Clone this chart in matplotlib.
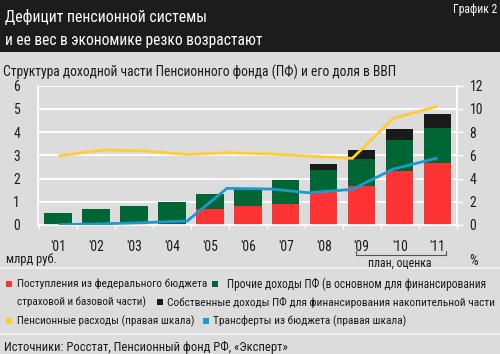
import matplotlib
matplotlib.use("Agg")
import matplotlib.pyplot as plt
from matplotlib import font_manager
from matplotlib.lines import Line2D
from matplotlib.patches import Rectangle
import numpy as np

# ---- pick a condensed font if one is installed ----
def pick_font():
    fl = font_manager.fontManager.ttflist
    def ok(f):
        return f.style == "normal" and f.weight in (400, "normal", "regular", "book")
    prefs = ["Liberation Sans Narrow", "Roboto Condensed", "Open Sans Condensed",
             "DejaVu Sans Condensed", "Noto Sans Condensed", "Noto Sans", "Open Sans",
             "Roboto", "Lato", "Inter", "DejaVu Sans"]
    cond = [f for f in fl if ok(f) and (str(f.stretch) in ("condensed", "semi-condensed", "extra-condensed")
                                       or "Narrow" in f.name or "Condensed" in f.name)]
    for p in prefs:
        for f in cond:
            if f.name == p:
                return f.name, f.stretch
    for f in cond:
        return f.name, f.stretch
    return "Roboto", "normal"

FAM, STR = pick_font()
plt.rcParams["font.family"] = [FAM, "DejaVu Sans"]
plt.rcParams["font.stretch"] = STR

# ---- data ----
years = ["'01", "'02", "'03", "'04", "'05", "'06", "'07", "'08", "'09", "'10", "'11"]
federal = [0.0, 0.02, 0.04, 0.05, 0.68, 0.82, 0.91, 1.40, 1.70, 2.31, 2.66]
other = [0.52, 0.68, 0.79, 0.95, 0.67, 0.76, 1.03, 0.97, 1.14, 1.35, 1.53]
own = [0, 0, 0, 0, 0, 0, 0, 0.25, 0.39, 0.46, 0.58]

# lines (right axis, % of GDP), x in year-index units
pens_x = [0.05, 1.2, 2.2, 3.4, 4.45, 5.6, 6.6, 7.75, 8.83, 9.96]
pens_y = [5.97, 6.46, 6.40, 6.07, 6.23, 6.12, 5.94, 5.74, 9.19, 10.19]
trans_x = [0.05, 1.2, 2.2, 3.4, 4.45, 5.6, 6.6, 7.75, 8.83, 9.96]
trans_y = [0.03, 0.10, 0.20, 0.34, 3.16, 3.10, 2.78, 3.07, 4.82, 5.74]

left_ticks = [0, 1, 2, 3, 4, 5, 6]
right_ticks = [0, 2, 4, 6, 8, 10, 12]

BG = "#dcdcdc"
RED = "#ff3333"
GREEN = "#006633"
BLACK = "#1a1a1a"
YELLOW = "#ffcc33"
BLUE = "#1a9ad0"
TXT = "#1a1a1a"

W, H = 500, 354
fig = plt.figure(figsize=(W / 100, H / 100), dpi=100, facecolor=BG)
renderer = fig.canvas.get_renderer()

def fx(px):
    return px / W

def fy(py):
    return 1 - py / H

def fit(px, py, s, target_w, size=10, ha="left", color=TXT, maxsize=None):
    t = fig.text(fx(px), fy(py), s, color=color, fontsize=size, va="center", ha=ha)
    w = t.get_window_extent(renderer).width
    ns = size * target_w / w
    if maxsize is not None:
        ns = min(ns, maxsize)
    t.set_fontsize(ns)
    return t, ns / size

# title band
fig.patches.append(Rectangle((0, fy(52)), 1, 52 / H, transform=fig.transFigure,
                             facecolor="#1c1c1c", edgecolor="none", zorder=0))
fit(5, 17, "Дефицит пенсионной системы", 202, 12, color="white")
fit(5, 41, "и ее вес в экономике резко возрастают", 258, 12, color="white")
fit(497, 9, "График 2", 44, 9, ha="right", color="white")

_, k = fit(3, 72, "Структура доходной части Пенсионного фонда (ПФ) и его доля в ВВП", 394, 10)
TICK = 10 * k

# axes
ax = fig.add_axes([fx(38), fy(225), fx(457) - fx(38), (225 - 85.7) / H])
ax.set_facecolor(BG)
x = np.arange(len(years))
bw = 0.72
federal = np.array(federal)
other = np.array(other)
own = np.array(own)
ax.bar(x, federal, bw, color=RED, zorder=2)
ax.bar(x, other, bw, bottom=federal, color=GREEN, zorder=2)
ax.bar(x, own, bw, bottom=federal + other, color=BLACK, zorder=2)
ax.set_xlim(-0.53, 10.51)
ax.set_ylim(0, 6)
ax.set_yticks(left_ticks)
ax.yaxis.grid(True, color="white", linewidth=1.3, zorder=1)
ax.set_axisbelow(True)
ax.tick_params(axis="y", length=0, labelsize=TICK, pad=13, labelcolor=TXT)
ax.set_xticks(x)
ax.set_xticklabels(years)
ax.tick_params(axis="x", which="major", length=0, labelsize=TICK, pad=11, labelcolor=TXT)
ax.set_xticks(np.arange(-0.5, 10.6, 1), minor=True)
ax.tick_params(axis="x", which="minor", length=3, color="white", width=1)
ax.spines["top"].set_visible(False)
for s in ["left", "right", "bottom"]:
    ax.spines[s].set_color("white")
    ax.spines[s].set_linewidth(1.2)

ax2 = ax.twinx()
ax2.set_ylim(0, 12)
ax2.set_yticks(right_ticks)
ax2.tick_params(axis="y", length=4, color="white", width=1, labelsize=TICK, pad=5, labelcolor=TXT)
for s in ["top", "left", "bottom"]:
    ax2.spines[s].set_visible(False)
ax2.spines["right"].set_color("white")
ax2.spines["right"].set_linewidth(1.2)
ax2.plot(pens_x, pens_y, color=YELLOW, linewidth=2, zorder=3, solid_joinstyle="miter")
ax2.plot(trans_x, trans_y, color=BLUE, linewidth=2, zorder=3, solid_joinstyle="miter")

# unit labels
fit(6, 260, "млрд руб.", 51, 9)
fig.text(fx(474), fy(261), "%", color=TXT, fontsize=TICK, va="center", ha="center")

# plan bracket
bx0, bx1, by = 356, 446, 255
fig.add_artist(Line2D([fx(bx0), fx(bx0), fx(bx1), fx(bx1)], [fy(251), fy(by), fy(by), fy(251)],
                      transform=fig.transFigure, color="#555555", linewidth=0.8))
fit(400, 263, "план, оценка", 64, 9, ha="center")

# separators
for yy in (268, 334):
    fig.add_artist(Line2D([0, 1], [fy(yy), fy(yy)], transform=fig.transFigure,
                          color="#f2f2f2", linewidth=1.2))

# legend
def sq(px, py, color):
    fig.patches.append(Rectangle((fx(px), fy(py + 3)), 6 / W, 6 / H, transform=fig.transFigure,
                                 facecolor=color, edgecolor="none"))

r1, r2, r3 = 284, 302, 321
sq(6, r1, RED); fit(17, r1, "Поступления из федерального бюджета", 191, 9)
sq(212, r1, GREEN); fit(227, r1, "Прочие доходы ПФ (в основном для финансирования", 260, 9)
fit(17, r2, "страховой и базовой части)", 131, 9)
sq(157, r2, BLACK); fit(167, r2, "Собственные доходы ПФ для финансирования накопительной части", 330, 9)
sq(6, r3, YELLOW); fit(17, r3, "Пенсионные расходы (правая шкала)", 178, 9)
sq(203, r3, BLUE); fit(213, r3, "Трансферты из бюджета (правая шкала)", 194, 9)

fit(4, 347, "Источники: Росстат, Пенсионный фонд РФ, «Эксперт»", 286, 10)

fig.savefig("out.png", dpi=100, facecolor=BG)
